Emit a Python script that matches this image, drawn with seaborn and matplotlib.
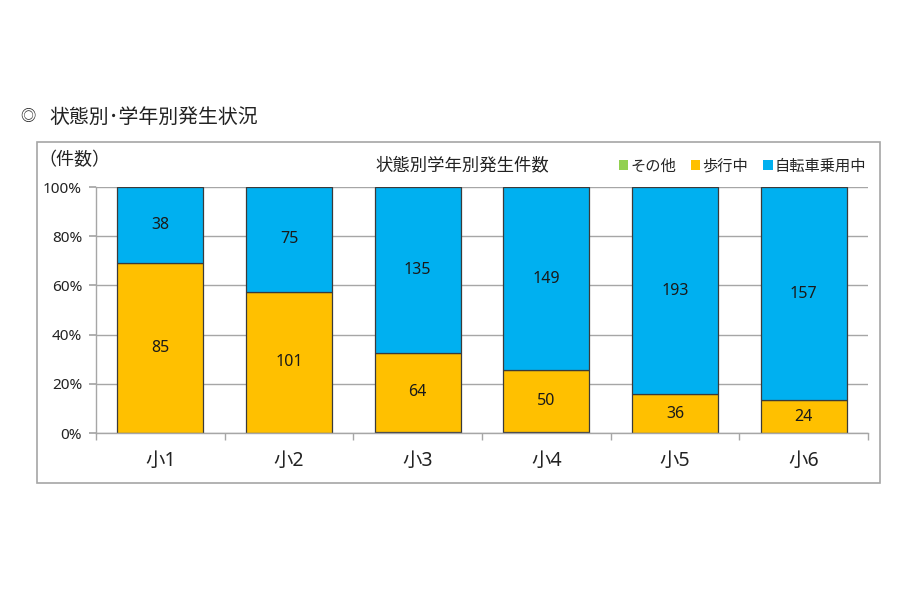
"""
State-by-grade accident chart (100% stacked bars).
"""

import matplotlib
matplotlib.use('Agg')
import matplotlib.pyplot as plt
from matplotlib.patches import Rectangle, Patch
import seaborn as sns
import pandas as pd
import numpy as np

grades = ['小1', '小2', '小3', '小4', '小5', '小6']
other = [0, 0, 1, 1, 0, 0]
walking = [85, 101, 64, 50, 36, 24]
bicycle = [38, 75, 135, 149, 193, 157]

series_names = ['その他', '歩行中', '自転車乗用中']
colors = ['#92D050', '#FFC000', '#00B0F0']

sns.set_theme(style='white')
plt.rcParams['font.family'] = ['Noto Sans', 'Noto Sans CJK JP', 'DejaVu Sans']

df = pd.DataFrame({'grade': grades, 'other': other, 'walking': walking, 'bicycle': bicycle})
total = df[['other', 'walking', 'bicycle']].sum(axis=1)
for col in ['other', 'walking', 'bicycle']:
    df[col + '_pct'] = df[col] / total * 100

fig = plt.figure(figsize=(9, 6), dpi=100)
fig.patch.set_facecolor('white')
ax = fig.add_axes([0.1067, 0.2783, 0.8578, 0.41])

# outer frame of the chart area
fig.patches.append(Rectangle((0.0411, 0.195), 0.9367, 0.568, transform=fig.transFigure,
                             fill=False, edgecolor='#A6A6A6', linewidth=1.2))

bottom = np.zeros(len(grades))
for col, color in zip(['other', 'walking', 'bicycle'], colors):
    sns.barplot(x=df['grade'], y=df[col + '_pct'], bottom=bottom, color=color,
                width=0.67, edgecolor='#3a3a3a', linewidth=0.9, ax=ax,
                order=grades, saturation=1)
    bottom = bottom + df[col + '_pct'].values

# value labels
walk_mid = df['other_pct'] + df['walking_pct'] / 2
bike_mid = df['other_pct'] + df['walking_pct'] + df['bicycle_pct'] / 2
for i in range(len(grades)):
    ax.text(i, walk_mid[i], str(walking[i]), ha='center', va='center', fontsize=11.5, color='#1a1a1a')
    ax.text(i, bike_mid[i], str(bicycle[i]), ha='center', va='center', fontsize=11.5, color='#1a1a1a')

ax.set_ylim(0, 100)
ax.set_xlim(-0.5, len(grades) - 0.5)
ax.set_yticks(np.arange(0, 101, 20))
ax.set_yticklabels([f'{v}%' for v in range(0, 101, 20)], fontsize=11, color='#222222')
ax.yaxis.grid(True, color='#A6A6A6', linewidth=1)
ax.set_axisbelow(True)
ax.set_xlabel('')
ax.set_ylabel('')

ax.set_xticks(range(len(grades)))
ax.set_xticklabels(grades, fontsize=14, color='#222222')
ax.set_xticks(np.arange(-0.5, len(grades), 1), minor=True)
ax.tick_params(axis='x', which='major', length=0, pad=13)
ax.tick_params(axis='x', which='minor', length=5, color='#A6A6A6', direction='out', bottom=True)
ax.tick_params(axis='y', length=5, color='#A6A6A6', direction='out', left=True, pad=5)

for side in ['top', 'right']:
    ax.spines[side].set_visible(False)
for side in ['left', 'bottom']:
    ax.spines[side].set_color('#A6A6A6')
    ax.spines[side].set_linewidth(1)

# texts
fig.text(0.022, 1 - 118 / 600, '◎', fontsize=11, va='center', ha='left', color='#222222')
fig.text(0.055, 1 - 118 / 600, '状態別･学年別発生状況', fontsize=14.3, va='center', ha='left', color='#222222')
fig.text(0.043, 1 - 160 / 600, '（件数）', fontsize=13, va='center', ha='left', color='#222222')
fig.text(0.514, 1 - 165 / 600, '状態別学年別発生件数', fontsize=12.5, va='center', ha='center', color='#222222')

handles = [Patch(facecolor=c, edgecolor='none') for c in colors]
fig.legend(handles, series_names, loc='center right', bbox_to_anchor=(0.978, 1 - 167 / 600),
           ncol=3, frameon=False, fontsize=11, handlelength=0.6, handleheight=0.6,
           handletextpad=0.15, columnspacing=1.0)

fig.savefig('out.png', dpi=100, facecolor='white')
